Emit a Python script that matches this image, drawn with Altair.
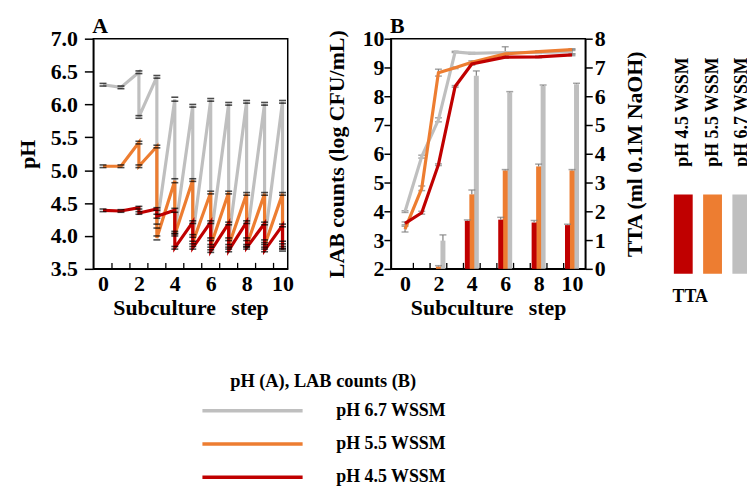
import altair as alt
import pandas as pd

FONT = "Liberation Serif"
SERIES = ["pH 6.7 WSSM", "pH 5.5 WSSM", "pH 4.5 WSSM"]
COLORS = ["#BFBFBF", "#ED7D31", "#C00000"]
TICK_LABELS = [0, 2, 4, 6, 8, 10]
MINOR_TICKS = [0.5, 1.5, 2.5, 3.5, 4.5, 5.5, 6.5, 7.5, 8.5, 9.5]
PANEL_LETTERS = ["A", "B"]

# ---------------- Panel A : pH (start / end of each subculture step)
ph_step = [0, 1, 2, 2, 3, 3, 4, 4, 5, 5, 6, 6, 7, 7, 8, 8, 9, 9, 10, 10]
ph_67 = [6.30, 6.26, 6.49, 5.81, 6.42, 4.15, 6.08, 4.05, 5.98, 4.00, 6.07, 3.95,
         6.01, 3.95, 6.04, 3.95, 6.01, 3.92, 6.04, 3.90]
ph_55 = [5.06, 5.06, 5.42, 5.06, 5.36, 3.97, 4.84, 4.02, 4.85, 3.90, 4.66, 3.85,
         4.66, 3.85, 4.64, 3.85, 4.64, 3.85, 4.64, 3.82]
ph_45 = [4.39, 4.38, 4.43, 4.35, 4.41, 4.30, 4.39, 3.82, 4.21, 3.82, 4.21, 3.77,
         4.19, 3.78, 4.21, 3.82, 4.19, 3.78, 4.16, 3.79]
ph_sd = [0.02, 0.02, 0.02, 0.02, 0.02, 0.03, 0.03, 0.02, 0.02, 0.02, 0.02, 0.02,
         0.02, 0.02, 0.02, 0.02, 0.02, 0.02, 0.02, 0.02]

# ---------------- Panel B : LAB counts (left axis) and TTA (right axis)
lab_step = [0, 1, 2, 3, 4, 6, 8, 10]
lab_67 = [3.99, 5.90, 7.18, 9.54, 9.49, 9.52, 9.52, 9.55]
lab_55 = [3.38, 4.80, 8.82, 8.99, 9.18, 9.47, 9.55, 9.62]
lab_45 = [3.58, 3.95, 5.62, 8.34, 9.12, 9.36, 9.37, 9.44]
lab_sd_67 = [0.03, 0.05, 0.07, 0.02, 0.03, 0.20, 0.03, 0.08]
lab_sd_55 = [0.10, 0.08, 0.12, 0.03, 0.05, 0.03, 0.03, 0.03]
lab_sd_45 = [0.05, 0.05, 0.03, 0.03, 0.04, 0.03, 0.03, 0.03]

tta_step = [2, 4, 6, 8, 10]
tta_67 = [0.98, 6.71, 6.13, 6.36, 6.42]
tta_55 = [0.08, 2.59, 3.42, 3.56, 3.42]
tta_45 = [0.00, 1.67, 1.71, 1.61, 1.52]
tta_sd_67 = [0.20, 0.17, 0.03, 0.03, 0.03]
tta_sd_55 = [0.03, 0.15, 0.03, 0.08, 0.03]
tta_sd_45 = [0.00, 0.03, 0.08, 0.07, 0.03]

BAR_SHIFT = {"pH 4.5 WSSM": -0.27, "pH 5.5 WSSM": 0.0, "pH 6.7 WSSM": 0.27}
color_scale = alt.Scale(domain=SERIES, range=COLORS)
XTITLE = "Subculture\u00a0\u00a0\u2009step"


def xenc(field, domain):
    return alt.X(f"{field}:Q", scale=alt.Scale(domain=domain, nice=False, zero=False),
                 axis=alt.Axis(values=TICK_LABELS, ticks=False, format="d", title=XTITLE,
                               labelPadding=5, titlePadding=3))


def letter(ch):
    return alt.Chart(pd.DataFrame({"t": [ch]})).mark_text(
        align="left", baseline="alphabetic", font=FONT, fontSize=22, fontWeight="bold",
        color="black").encode(text="t:N", x=alt.value(-1), y=alt.value(-6))


# ---------- Panel A
XA = [-0.54, 10.29]
yA_scale = alt.Scale(domain=[3.5, 7.0], nice=False, zero=False)
yA_axis = alt.Axis(values=[3.5, 4.0, 4.5, 5.0, 5.5, 6.0, 6.5, 7.0], format=".1f", title="pH",
                   tickSize=9, labelPadding=7, titlePadding=10, minExtent=44, maxExtent=44)
a_lines, a_caps = [], []
for name, vals, col in zip(SERIES, [ph_67, ph_55, ph_45], COLORS):
    df = pd.DataFrame({"step": ph_step, "pH": vals, "sd": ph_sd, "k": list(range(len(vals)))})
    base = alt.Chart(df)
    a_lines.append(base.mark_line(color=col, strokeWidth=3.2).encode(
        x=xenc("step", XA), y=alt.Y("pH:Q", scale=yA_scale, axis=yA_axis), order="k:Q"))
    for side, expr in (("hi", "datum.pH + datum.sd"), ("lo", "datum.pH - datum.sd")):
        a_caps.append(base.transform_calculate(**{side: expr}).mark_tick(
            color="black", thickness=1.6, size=7, orient="horizontal").encode(
            x=xenc("step", XA), y=alt.Y(f"{side}:Q", scale=yA_scale, axis=yA_axis)))

ticks_df = pd.DataFrame({"step": MINOR_TICKS})
a_ticks = alt.Chart(ticks_df).mark_rule(color="black", strokeWidth=1.3).encode(
    x=xenc("step", XA), y=alt.value(232), y2=alt.value(226))

panel_a = alt.layer(*a_lines, *a_caps, a_ticks, letter(PANEL_LETTERS[0])).properties(
    width=196, height=232)

# ---------- Panel B
XB = [-0.55, 10.5]
lab_scale = alt.Scale(domain=[2, 10], nice=False, zero=False)
lab_axis = alt.Axis(values=list(range(2, 11)), title="LAB counts (log CFU/mL)", tickSize=7,
                    labelPadding=0, titlePadding=14, orient="left", minExtent=29, maxExtent=29)
tta_scale = alt.Scale(domain=[0, 8], nice=False, zero=True)
tta_axis = alt.Axis(values=list(range(0, 9)), title="TTA (ml 0.1M NaOH)", tickSize=7,
                    labelPadding=2, titlePadding=20, orient="right", titleAngle=270,
                    titleBaseline="top", minExtent=20, maxExtent=20)

rows = []
for name, vals, sds in zip(SERIES, [tta_67, tta_55, tta_45], [tta_sd_67, tta_sd_55, tta_sd_45]):
    for st, v, sd in zip(tta_step, vals, sds):
        rows.append({"step": st, "tta": v, "sd": sd, "series": name, "shift": BAR_SHIFT[name]})
tta_df = pd.DataFrame(rows)
tbase = alt.Chart(tta_df).transform_calculate(xb="datum.step + datum.shift",
                                              hi="datum.tta + datum.sd")
bars = tbase.mark_bar(size=5).encode(
    x=xenc("xb", XB), y=alt.Y("tta:Q", scale=tta_scale, axis=tta_axis),
    color=alt.Color("series:N", scale=color_scale, legend=None))
bar_err = tbase.transform_filter("datum.sd > 0").mark_rule(color="#7F7F7F", strokeWidth=1.2).encode(
    x=xenc("xb", XB), y=alt.Y("tta:Q", scale=tta_scale, axis=tta_axis), y2="hi:Q")
bar_cap = tbase.transform_filter("datum.sd > 0").mark_tick(
    color="#7F7F7F", thickness=1.5, size=7, orient="horizontal").encode(
    x=xenc("xb", XB), y=alt.Y("hi:Q", scale=tta_scale, axis=tta_axis))
tta_layer = alt.layer(bars, bar_err, bar_cap)

b_lines, b_err = [], []
for name, vals, sds, col in zip(SERIES, [lab_67, lab_55, lab_45],
                                [lab_sd_67, lab_sd_55, lab_sd_45], COLORS):
    df = pd.DataFrame({"step": lab_step, "lab": vals, "sd": sds})
    base = alt.Chart(df).transform_calculate(hi="datum.lab + datum.sd", lo="datum.lab - datum.sd")
    b_err.append(base.mark_rule(color="#7F7F7F", strokeWidth=1.2).encode(
        x=xenc("step", XB), y=alt.Y("lo:Q", scale=lab_scale, axis=lab_axis), y2="hi:Q"))
    for side in ("hi", "lo"):
        b_err.append(base.mark_tick(color="#7F7F7F", thickness=1.5, size=7,
                                    orient="horizontal").encode(
            x=xenc("step", XB), y=alt.Y(f"{side}:Q", scale=lab_scale, axis=lab_axis)))
    b_lines.append(base.mark_line(color=col, strokeWidth=3.2).encode(
        x=xenc("step", XB), y=alt.Y("lab:Q", scale=lab_scale, axis=lab_axis)))

b_ticks = alt.Chart(ticks_df).mark_rule(color="black", strokeWidth=1.3).encode(
    x=xenc("step", XB), y=alt.value(232), y2=alt.value(226))
lab_layer = alt.layer(*b_err, *b_lines, b_ticks, letter(PANEL_LETTERS[1]))

panel_b = alt.layer(tta_layer, lab_layer).resolve_scale(y="independent").properties(
    width=196, height=232)

# ---------- TTA legend (right)
TTA_ORDER = ["pH 4.5 WSSM", "pH 5.5 WSSM", "pH 6.7 WSSM"]
leg_df = pd.DataFrame({"series": TTA_ORDER, "i": [0, 1, 2]})
LEG_W = 84
LEG_STEP = 33.5
lbase = alt.Chart(leg_df).encode(
    x=alt.X("i:Q", scale=alt.Scale(domain=[-0.5, -0.5 + LEG_W / LEG_STEP], nice=False,
                                   zero=False), axis=None))
swatch = lbase.mark_bar(size=19, clip=True).encode(
    y=alt.value(157), y2=alt.value(237),
    color=alt.Color("series:N", scale=color_scale, legend=None))
swatch_lbl = lbase.mark_text(angle=270, align="left", baseline="middle", font=FONT,
                             fontSize=18, fontWeight="bold", clip=True).encode(
    y=alt.value(129), text="series:N")
tta_legend = alt.layer(swatch, swatch_lbl).properties(
    width=LEG_W, height=240, view=alt.ViewBackground(strokeOpacity=0),
    title=alt.Title("TTA", orient="bottom", fontSize=18, offset=11, anchor="start",
                    frame="group", dx=9))

# ---------- line legend (bottom)
line_df = pd.DataFrame({"series": SERIES})
bbase = alt.Chart(line_df).encode(
    y=alt.Y("series:N", sort=SERIES, axis=None,
            scale=alt.Scale(type="point", padding=0)))
leg_rules = bbase.mark_rule(strokeWidth=3.5).encode(
    x=alt.value(110), x2=alt.value(211),
    color=alt.Color("series:N", scale=color_scale, legend=None))
leg_text = bbase.mark_text(align="left", baseline="middle", font=FONT, fontSize=18,
                           fontWeight="bold").encode(x=alt.value(245), text="series:N")
line_legend = alt.layer(leg_rules, leg_text).properties(
    width=450, height=67, view=alt.ViewBackground(strokeOpacity=0),
    title=alt.Title("pH (A), LAB counts (B)", anchor="start", frame="group", fontSize=18.5,
                    dx=138, offset=11))

top = alt.hconcat(alt.hconcat(panel_a, panel_b, spacing=30), tta_legend, spacing=17)
chart = alt.vconcat(top, line_legend, spacing=53).properties(
    padding={"left": 8, "top": 4, "right": 0, "bottom": 0}
).configure_axis(
    labelFont=FONT, titleFont=FONT, labelFontSize=22, titleFontSize=22,
    labelFontWeight="bold", titleFontWeight="bold", labelColor="black", titleColor="black",
    domainColor="black", tickColor="black", domainWidth=1.5, tickWidth=1.5, grid=False
).configure_view(stroke="black", strokeWidth=1.5).configure_title(
    font=FONT, fontWeight="bold", color="black")

chart.save("out.html", embed_options={"renderer": "svg", "actions": False})
